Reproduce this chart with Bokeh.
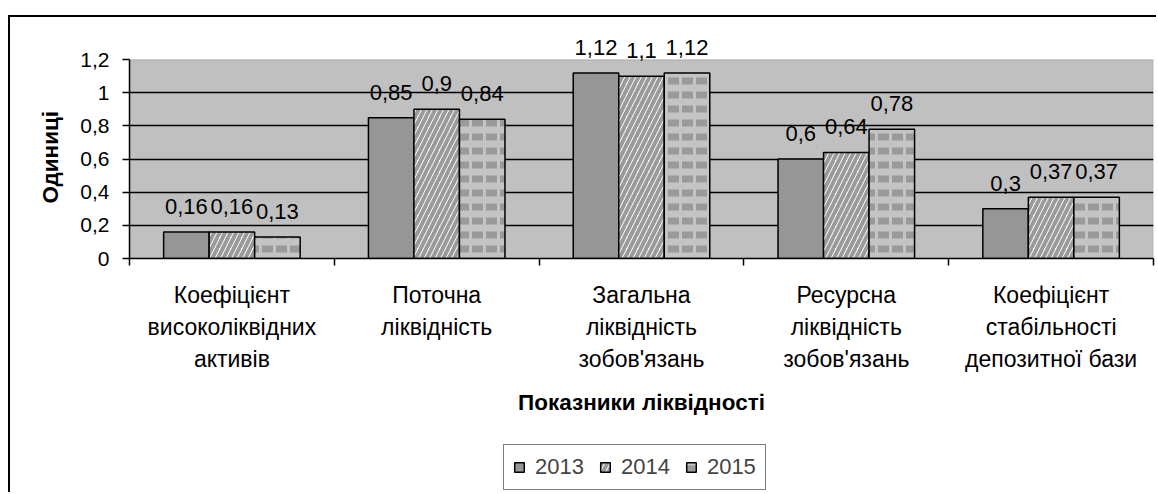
import numpy as np
from bokeh.plotting import figure
from bokeh.layouts import column
from bokeh.models import (ColumnDataSource, Range1d, FixedTicker, LinearAxis,
                          LabelSet, BoxAnnotation, Legend, LegendItem, Title)
from bokeh.core.properties import value
from bokeh.embed import file_html
from bokeh.resources import INLINE

categories = [
    "Коефіцієнт\nвисоколіквідних\nактивів",
    "Поточна\nліквідність",
    "Загальна\nліквідність\nзобов'язань",
    "Ресурсна\nліквідність\nзобов'язань",
    "Коефіцієнт\nстабільності\nдепозитної бази",
]
years = ["2013", "2014", "2015"]
v2013 = [0.16, 0.85, 1.12, 0.60, 0.30]
v2014 = [0.16, 0.90, 1.10, 0.64, 0.37]
v2015 = [0.13, 0.84, 1.12, 0.78, 0.37]
y_ticks = [0, 0.2, 0.4, 0.6, 0.8, 1.0, 1.2]
y_tick_labels = ["0", "0,2", "0,4", "0,6", "0,8", "1", "1,2"]
x_title = "Показники ліквідності"
y_title = "Одиниці"

FONT = "Liberation Sans"
n = len(categories)
bw = 1 / 4.5
centers = np.arange(n) + 0.5
y_top = y_ticks[-1]
y_max = 1.4  # headroom above the plot area for the value labels
W = 1146

p = figure(width=W, height=423, output_backend="svg", toolbar_location=None,
           x_range=Range1d(0, n), y_range=Range1d(0, y_max),
           x_axis_location=None, y_axis_location=None,
           min_border_left=119, min_border_right=3, min_border_top=9,
           min_border_bottom=182)
p.background_fill_color = "white"
p.border_fill_color = "white"
p.outline_line_color = None

# grey plot area
p.add_layout(BoxAnnotation(left=0, right=n, bottom=0, top=y_top, fill_color="#c0c0c0",
                           fill_alpha=1, line_color="#808080", line_width=1.5, level="image"))

# y axis
yax = LinearAxis(ticker=FixedTicker(ticks=y_ticks, minor_ticks=[]), bounds=(0, y_top),
                 major_label_overrides={t: l for t, l in zip(y_ticks, y_tick_labels)})
yax.major_label_text_font = FONT
yax.major_label_text_font_size = "21px"
yax.major_label_text_color = "black"
yax.major_label_standoff = 13
yax.major_tick_out = 7
yax.major_tick_in = 0
yax.minor_tick_line_color = None
yax.axis_line_color = "black"
yax.axis_line_width = 1.5
yax.major_tick_line_width = 1.5
p.add_layout(yax, "left")

# y title, centred on the grey plot area rather than on the whole frame
p.add_layout(Title(text=y_title, align="left", offset=55, text_font=FONT,
                   text_font_style="bold", text_font_size="22.5px", text_color="black",
                   standoff=29), "left")

# x axis: labels at category centers, ticks at category boundaries
xax = LinearAxis(ticker=FixedTicker(ticks=list(centers), minor_ticks=list(range(n + 1))),
                 major_label_overrides={float(c): lab for c, lab in zip(centers, categories)})
xax.axis_label = x_title
xax.axis_label_text_font = FONT
xax.axis_label_text_font_style = "bold"
xax.axis_label_text_font_size = "22.5px"
xax.axis_label_text_color = "black"
xax.axis_label_standoff = 15
xax.major_label_text_font = FONT
xax.major_label_text_font_size = "23px"
xax.major_label_text_color = "black"
xax.major_label_text_line_height = 1.24
xax.major_label_standoff = 16
xax.major_tick_line_color = None
xax.major_tick_out = 0
xax.major_tick_in = 0
xax.minor_tick_out = 7
xax.minor_tick_in = 0
xax.minor_tick_line_color = "black"
xax.minor_tick_line_width = 1.5
xax.axis_line_color = "black"
xax.axis_line_width = 1.5
p.add_layout(xax, "below")

p.xgrid.visible = False
p.ygrid.ticker = FixedTicker(ticks=y_ticks[:-1])
p.ygrid.grid_line_color = "black"
p.ygrid.grid_line_width = 1.5

series = [v2013, v2014, v2015]
styles = [
    dict(fill_color="#969696"),
    dict(fill_color="white", hatch_pattern="right_diagonal_line", hatch_color="#9a9a9a",
         hatch_weight=4, hatch_scale=11),
    dict(fill_color="#c4c4c4", hatch_pattern="horizontal_dash", hatch_color="#9a9a9a",
         hatch_weight=7, hatch_scale=14),
]

# legend strip below the chart (its own small figure; its bar copies stay hidden)
lf = figure(width=W, height=52, output_backend="svg", toolbar_location=None,
            x_range=Range1d(0, n), y_range=Range1d(0, y_max),
            x_axis_location=None, y_axis_location=None,
            min_border_left=0, min_border_right=0, min_border_top=0, min_border_bottom=0)
lf.outline_line_color = None
lf.xgrid.visible = False
lf.ygrid.visible = False
lf.background_fill_color = "white"
lf.border_fill_color = "white"

items = []
for k, (vals, yr, st) in enumerate(zip(series, years, styles)):
    xs = centers + (k - 1) * bw
    src = ColumnDataSource(dict(x=xs, top=vals,
                                lab=[("%g" % v).replace(".", ",") for v in vals]))
    p.vbar(x="x", top="top", width=bw, source=src, line_color="black", line_width=1.5, **st)
    p.add_layout(LabelSet(x="x", y="top", text="lab", source=src, text_align="center",
                          text_baseline="alphabetic", y_offset=18, text_font=value(FONT),
                          text_font_size="22px", text_color="black"))
    r = lf.vbar(x="x", top="top", width=bw, source=src, line_color="black", line_width=1.5,
                visible=False, **st)
    items.append(LegendItem(label=yr, renderers=[r]))

lg = Legend(items=items, location=(374, 2), orientation="horizontal")
lg.border_line_color = "black"
lg.border_line_width = 1.5
lg.background_fill_color = "white"
lg.background_fill_alpha = 1
lg.inactive_fill_alpha = 0
lg.padding = 9
lg.margin = 0
lg.glyph_width = 12
lg.glyph_height = 12
lg.label_standoff = 10
lg.spacing = 15
lg.label_text_font = FONT
lg.label_text_font_size = "22px"
lf.add_layout(lg)

page = column(p, lf, spacing=0)
page.margin = (15, 0, 0, 8)
page.styles = {"border-left": "2px solid black", "border-top": "2px solid black"}

open("out.html", "w").write(file_html(page, INLINE))
